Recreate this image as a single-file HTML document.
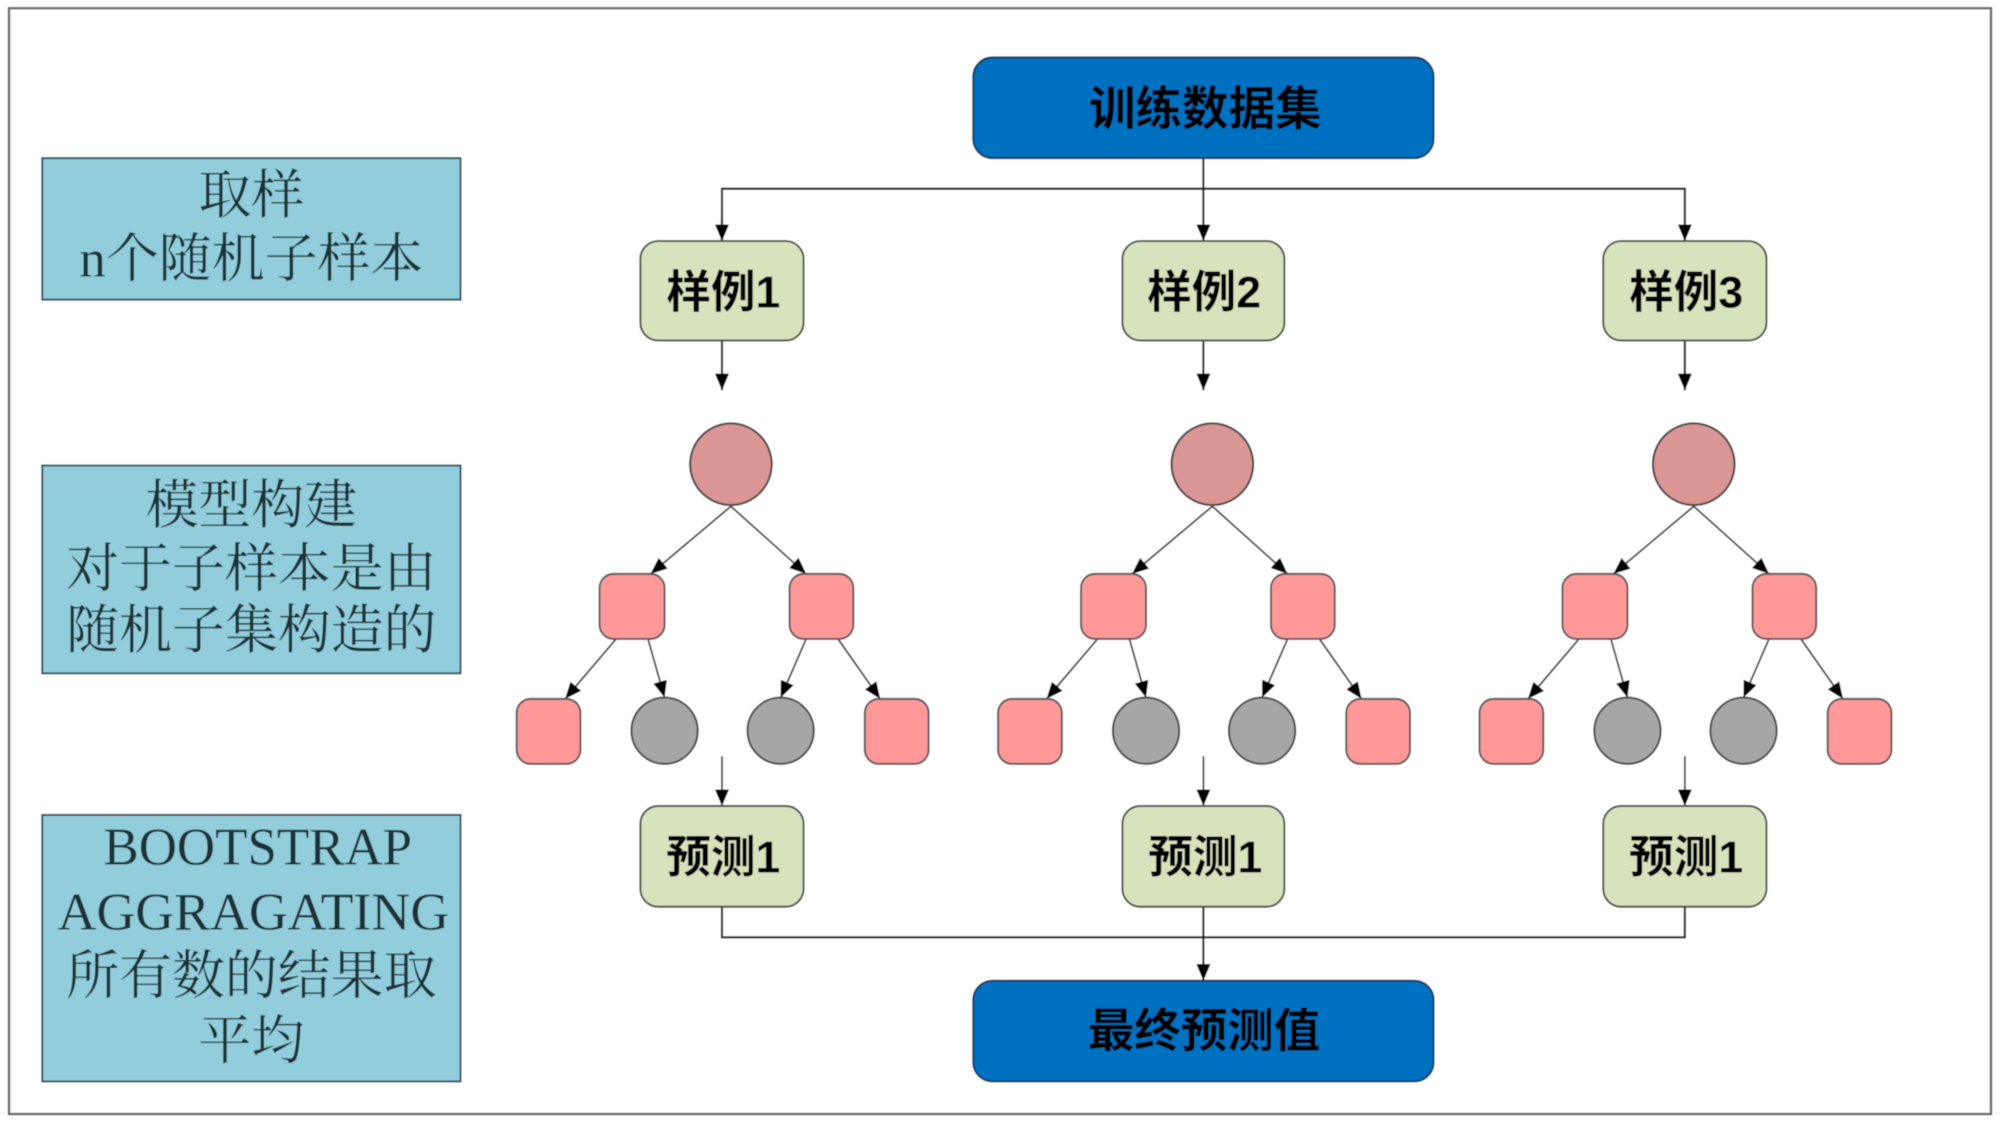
<!DOCTYPE html>
<html><head><meta charset="utf-8"><style>
html,body{margin:0;padding:0;background:#fff}
svg{display:block}
.l{font-family:"Liberation Serif","Noto Serif CJK SC",serif;font-size:41.500px;fill:#1f3238;text-anchor:middle}
.b{font-family:"Liberation Sans","Noto Sans CJK SC",sans-serif;font-size:35px;font-weight:700;fill:#000;text-anchor:middle}
.c{fill:none;stroke:#222;stroke-width:1.7}
.t{stroke:#3a3a3a;stroke-width:1.400;fill:none}
</style></head><body>
<svg width="2000" height="1121" viewBox="0 0 1568 879" xmlns="http://www.w3.org/2000/svg">
<defs>
<filter id="s" x="-2%" y="-2%" width="104%" height="104%"><feGaussianBlur stdDeviation="0.450"/></filter>
<marker id="a" markerUnits="userSpaceOnUse" markerWidth="15" markerHeight="12" refX="13" refY="5.500" orient="auto"><path d="M0 0L13 5.500L0 11z" fill="#000"/></marker>
<g id="tree">
  <circle cx="573" cy="364" r="32" fill="#d99694" stroke="#444" stroke-width="1.600"/>
  <path class="t" marker-end="url(#a)" d="M573 397L510 450"/>
  <path class="t" marker-end="url(#a)" d="M573 397L632 450"/>
  <path class="t" marker-end="url(#a)" d="M483 501L443 548"/>
  <path class="t" marker-end="url(#a)" d="M508 501L521 547"/>
  <path class="t" marker-end="url(#a)" d="M632 501L612 547"/>
  <path class="t" marker-end="url(#a)" d="M657 501L690 548"/>
  <rect x="470" y="450" width="51" height="51" rx="11" fill="#ff9999" stroke="#555" stroke-width="1.500"/>
  <rect x="619" y="450" width="50" height="51" rx="11" fill="#ff9999" stroke="#555" stroke-width="1.500"/>
  <rect x="405" y="548" width="50" height="51" rx="11" fill="#ff9999" stroke="#555" stroke-width="1.500"/>
  <rect x="678" y="548" width="50" height="51" rx="11" fill="#ff9999" stroke="#555" stroke-width="1.500"/>
  <ellipse cx="521" cy="573" rx="26" ry="26" fill="#a6a6a6" stroke="#444" stroke-width="1.500"/>
  <ellipse cx="612" cy="573" rx="26" ry="26" fill="#a6a6a6" stroke="#444" stroke-width="1.500"/>
</g>
</defs>
<rect width="1568" height="879" fill="#fff"/>
<g filter="url(#s)">
<rect x="7" y="6.500" width="1554" height="867" fill="#fff" stroke="#666" stroke-width="1.800"/>

<!-- left boxes -->
<rect x="33" y="124" width="328" height="111" fill="#92cddc" stroke="#2c4a52" stroke-width="1.500"/>
<rect x="33" y="365" width="328" height="163" fill="#92cddc" stroke="#2c4a52" stroke-width="1.500"/>
<rect x="33" y="639" width="328" height="209" fill="#92cddc" stroke="#2c4a52" stroke-width="1.500"/>
<text class="l" x="197" y="167">取样</text>
<text class="l" x="197" y="217">n个随机子样本</text>
<text class="l" x="197" y="410">模型构建</text>
<text class="l" x="197" y="460">对于子样本是由</text>
<text class="l" x="197" y="508">随机子集构造的</text>
<text class="l" x="202" y="678" textLength="242" lengthAdjust="spacingAndGlyphs">BOOTSTRAP</text>
<text class="l" x="198.500" y="729" textLength="307" lengthAdjust="spacingAndGlyphs">AGGRAGATING</text>
<text class="l" x="197" y="779">所有数的结果取</text>
<text class="l" x="197" y="830">平均</text>

<!-- connectors -->
<path class="c" d="M943.500 124V148"/>
<path class="c" d="M566 189V148H1321V189" marker-end="url(#a)"/>
<path class="c" marker-end="url(#a)" d="M566 170V189"/>
<path class="c" marker-end="url(#a)" d="M943.500 148V189"/>
<path class="c" marker-end="url(#a)" d="M566 267V306"/>
<path class="c" marker-end="url(#a)" d="M943.500 267V306"/>
<path class="c" marker-end="url(#a)" d="M1321 267V306"/>
<path class="t" marker-end="url(#a)" d="M566 593V632"/>
<path class="t" marker-end="url(#a)" d="M943.500 593V632"/>
<path class="t" marker-end="url(#a)" d="M1321 593V632"/>
<path class="c" d="M566 711V735H1321V711"/>
<path class="c" marker-end="url(#a)" d="M943.500 711V769"/>

<!-- trees -->
<use href="#tree"/>
<use href="#tree" x="377.500"/>
<use href="#tree" x="755"/>

<!-- blue -->
<rect x="763" y="45" width="361" height="79" rx="15" fill="#0070c0" stroke="#17375e" stroke-width="1.500"/>
<rect x="763" y="769" width="361" height="79" rx="15" fill="#0070c0" stroke="#17375e" stroke-width="1.500"/>
<text class="b" x="945" y="98" style="font-size:36.500px">训练数据集</text>
<text class="b" x="944" y="821" style="font-size:36.500px">最终预测值</text>

<!-- samples -->
<g fill="#d8e2bc" stroke="#4a4a4a" stroke-width="1.500">
<rect x="502" y="189" width="128" height="78" rx="14"/>
<rect x="880" y="189" width="127" height="78" rx="14"/>
<rect x="1257" y="189" width="128" height="78" rx="14"/>
<rect x="502" y="632" width="128" height="79" rx="14"/>
<rect x="880" y="632" width="127" height="79" rx="14"/>
<rect x="1257" y="632" width="128" height="79" rx="14"/>
</g>
<text class="b" x="567" y="241">样例1</text>
<text class="b" x="944" y="241">样例2</text>
<text class="b" x="1322" y="241">样例3</text>
<text class="b" x="567" y="684">预测1</text>
<text class="b" x="945" y="684">预测1</text>
<text class="b" x="1322" y="684">预测1</text>
</g>
</svg>
</body></html>
